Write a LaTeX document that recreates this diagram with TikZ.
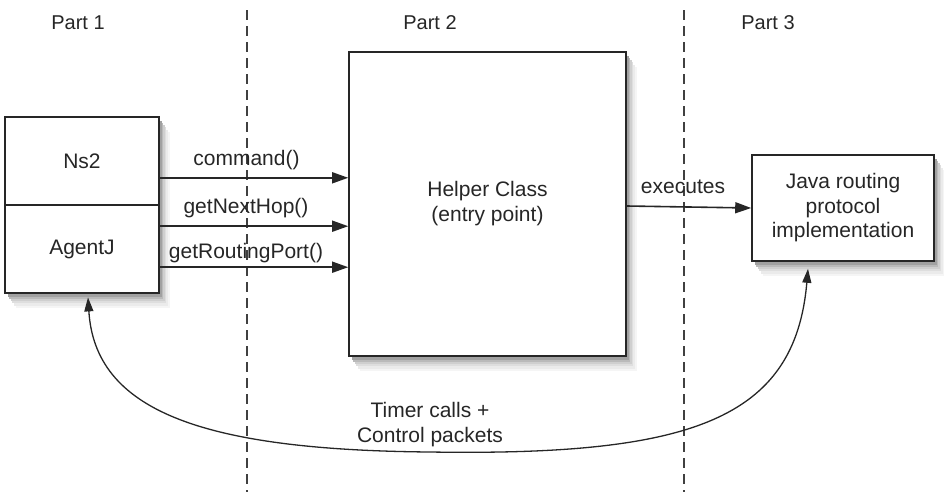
\documentclass[tikz,border=0pt]{standalone}
\usepackage{fontspec}
\setmainfont{Liberation Sans}
\usetikzlibrary{arrows.meta}
\newcommand{\mysoftshadow}[4]{%
  \fill[black!4] (#1+11,#2+15) rectangle (#3+11,#4+15);
  \fill[black!8] (#1+9,#2+12.5) rectangle (#3+9,#4+12.5);
  \fill[black!13] (#1+7,#2+10) rectangle (#3+7,#4+10);
  \fill[black!19] (#1+5.5,#2+8) rectangle (#3+5.5,#4+8);
  \fill[black!27] (#1+4,#2+6) rectangle (#3+4,#4+6);
  \fill[black!37] (#1+2.5,#2+4) rectangle (#3+2.5,#4+4);}
\begin{document}
\begin{tikzpicture}[x=1pt,y=-1pt,
  every node/.style={font=\fontsize{21}{25}\selectfont, text=black!85},
  boxst/.style={draw=black!85, line width=1.6pt, fill=white, inner sep=0pt},
  plain/.style={inner sep=0pt},
  lbl/.style={inner sep=0pt},
  arr/.style={draw=black!85, line width=1.6pt, -{Triangle[length=16pt,width=11pt]}},
  barr/.style={draw=black!85, line width=1.3pt, {Triangle[length=14pt,width=9pt]}-{Triangle[length=14pt,width=9pt]}},
  sep/.style={draw=black!75, line width=1.2pt, dash pattern=on 10pt off 6pt}]
\useasboundingbox (0,0) rectangle (944,496);
% shadows
\mysoftshadow{5}{117}{159}{293}
\mysoftshadow{349}{52}{626}{356}
\mysoftshadow{752}{155}{934}{261}
% separators
\coordinate (s1t) at (247,10); \coordinate (s1b) at (247,492);
\coordinate (s2t) at (684,10); \coordinate (s2b) at (684,492);
\draw[sep] (s1t) -- (s1b);
\draw[sep] (s2t) -- (s2b);
% part labels
\node[lbl, font=\fontsize{20}{24}\selectfont] (p1) at (78,23) {Part 1};
\node[lbl, font=\fontsize{20}{24}\selectfont] (p2) at (430,23) {Part 2};
\node[lbl, font=\fontsize{20}{24}\selectfont] (p3) at (768,23) {Part 3};
% left stacked box
\node[boxst, minimum width=154pt, minimum height=176pt] (left) at (82,205) {};
\node[plain, minimum width=154pt, minimum height=88pt, anchor=south] (ns2) at (82,205) {Ns2};
\node[plain, minimum width=154pt, minimum height=88pt, anchor=north] (agentj) at (82,205) {AgentJ};
\draw[draw=black!85, line width=1.6pt] (left.west |- ns2.south) -- (left.east |- ns2.south);
% helper box
\node[boxst, minimum width=277pt, minimum height=304pt, align=center] (helper) at (487.5,204) {Helper Class\\(entry point)};
% java box
\node[boxst, minimum width=182pt, minimum height=106pt, align=center, font=\fontsize{21}{24.5}\selectfont] (java) at (843,208) {Java routing\\protocol\\implementation};
% arrows
\draw[arr] ([yshift=-17pt]ns2.east) -- ([yshift=-17pt]ns2.east -| helper.west);
\draw[arr] ([yshift=23pt]agentj.east) -- ([yshift=23pt]agentj.east -| helper.west);
\draw[arr] ([yshift=-18pt]agentj.east) -- ([yshift=-18pt]agentj.east -| helper.west);
\node[lbl] (l1) at (246.5,160) {command()};
\node[lbl] (l2) at (246,208) {getNextHop()};
\node[lbl] (l3) at (246,253) {getRoutingPort()};
\draw[arr] ([yshift=-2pt]helper.east) -- (java.west);
\node[lbl] (l4) at (683,187) {executes};
% bottom curve
\coordinate (cb) at (430,452);
\draw[barr] ([xshift=6pt,yshift=-4pt]agentj.south) .. controls (95,410) and (200,450) .. (cb)
  .. controls (690,456) and (795,420) .. ([xshift=-35pt,yshift=-7pt]java.south);
\node[lbl, align=center] (l5) at (430,425) {Timer calls +\\Control packets};
\end{tikzpicture}
\end{document}
